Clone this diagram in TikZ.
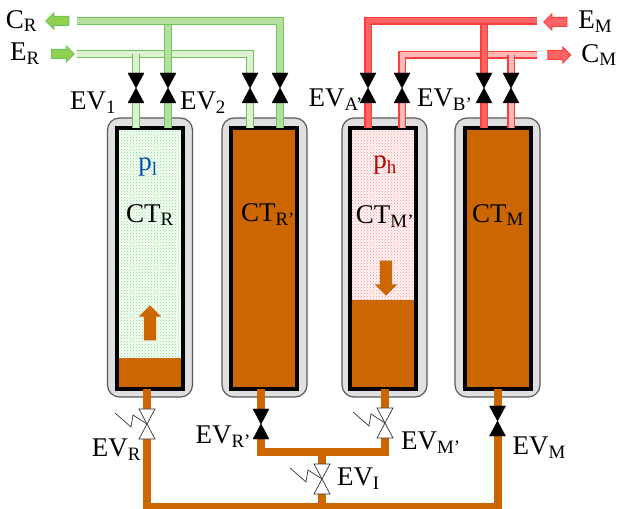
\documentclass[tikz,border=0pt]{standalone}
\usepackage{fontspec}
\setmainfont{Liberation Serif}
\usetikzlibrary{shapes.arrows,positioning,patterns}
\definecolor{brownfill}{HTML}{CC6600}
\definecolor{greenedge}{HTML}{6CC45C}
\definecolor{greendark}{HTML}{B4DF9C}
\definecolor{greenpale}{HTML}{DDF0CF}
\definecolor{greenflow}{HTML}{92D050}
\definecolor{greendot}{HTML}{92D492}
\definecolor{reddot}{HTML}{FF8C8C}
\definecolor{rededge}{HTML}{FF3C3C}
\definecolor{reddark}{HTML}{FF6464}
\definecolor{redpale}{HTML}{FFB8B8}
\begin{document}
\begin{tikzpicture}[x=1pt, y=1pt, font=\fontsize{27}{30}\selectfont,
  shell/.style={draw=black!65, fill=black!12, line width=1.2pt, rounded corners=12pt, minimum width=85pt, minimum height=279pt, inner sep=0pt, outer sep=0pt},
  tank/.style={minimum width=66pt, minimum height=261pt, inner sep=0pt, outer sep=0pt},
  tankwall/.style={draw=black, line width=4pt},
  valve/.style={minimum width=16pt, minimum height=30pt, inner sep=0pt, outer sep=0pt},
  label/.style={inner sep=0pt, outer sep=0pt},
  coldpipe/.style={draw=greenedge, line width=1.2pt, double=greendark, double distance=5.4pt},
  warmpipe/.style={draw=greenedge, line width=1.2pt, double=greenpale, double distance=5.4pt},
  hotpipe/.style={draw=rededge, line width=1.2pt, double=reddark, double distance=5pt},
  palepipe/.style={draw=rededge, line width=1.2pt, double=redpale, double distance=5pt},
  liquid/.style={draw=brownfill, line width=8pt},
  flow/.style={single arrow, minimum height=23pt, text height=8pt, text depth=0pt, text width=0pt, single arrow head extend=3.5pt, inner sep=0pt, line width=1pt},
  level/.style={single arrow, fill=brownfill, minimum height=35pt, text height=12pt, text depth=0pt, text width=0pt, single arrow head extend=5pt, inner sep=0pt}]
\clip (0,0) rectangle (617,508);
% tanks
\node[shell] (shellr) at (150,250.5) {};
\node[shell, right=29.5pt of shellr] (shellrp) {};
\node[shell, right=35pt of shellrp] (shellmp) {};
\node[shell, right=28pt of shellmp] (shellm) {};
\node[tank, fill=green!4] (ctr) at (150,249.5) {};
\node[tank, fill=brownfill, right=48pt of ctr] (ctrp) {};
\node[tank, fill=red!4, right=53pt of ctrp] (ctmp) {};
\node[tank, fill=brownfill, right=48.5pt of ctmp] (ctm) {};
\fill[pattern=crosshatch dots, pattern color=greendot] (ctr.south west) rectangle (ctr.north east);
\fill[pattern=crosshatch dots, pattern color=reddot] (ctmp.south west) rectangle (ctmp.north east);
\coordinate (levelr) at (150,150);
\coordinate (levelm) at (383,208);
\fill[brownfill] (ctr.south west) rectangle (ctr.east |- levelr);
\fill[brownfill] (ctmp.south west) rectangle (ctmp.east |- levelm);
\foreach \t in {ctr,ctrp,ctmp,ctm}
  \draw[tankwall] (\t.south west) rectangle (\t.north east);
% valves
\node[valve, above=25pt of ctr.north, xshift=-14pt] (ev1) {};
\node[valve, above=25pt of ctr.north, xshift=18pt] (ev2) {};
\node[valve, above=25pt of ctrp.north, xshift=-14pt] (ev3) {};
\node[valve, above=25pt of ctrp.north, xshift=16pt] (ev4) {};
\node[valve, above=25pt of ctmp.north, xshift=-15pt] (eva) {};
\node[valve, above=25pt of ctmp.north, xshift=19pt] (evb) {};
\node[valve, above=25pt of ctm.north, xshift=-13.5pt] (ev5) {};
\node[valve, above=25pt of ctm.north, xshift=13.5pt] (ev6) {};
\node[valve, below=20pt of ctr.south, xshift=-3pt] (evr) {};
\node[valve, below=20pt of ctrp.south, xshift=-3pt] (evrp) {};
\node[valve, below=19pt of ctmp.south, xshift=2pt] (evmp) {};
\node[valve, below=17pt of ctm.south] (evm) {};
\node[valve] (evi) at (322,29) {};
% free ends of the lines
\coordinate (crend) at (77,487);
\coordinate (crturn) at (168,487);
\coordinate (erend) at (77,454);
\coordinate (emend) at (537,487);
\coordinate (cmend) at (537,453);
\coordinate (joint) at (322,56);
\coordinate (mainline) at (322,1);
% green lines
\draw[warmpipe] (erend) -| (ev3.north);
\draw[warmpipe] (ev1 |- erend) -- (ev1.north);
\draw[warmpipe] (ev1.south) -- (ev1 |- ctr.north);
\draw[warmpipe] (ev3.south) -- (ev3 |- ctrp.north);
\draw[coldpipe] (crturn) -- (ev2.north);
\draw[coldpipe] (crend) -| (ev4.north);
\draw[coldpipe] (ev2.south) -- (ev2 |- ctr.north);
\draw[coldpipe] (ev4.south) -- (ev4 |- ctrp.north);
% red lines
\draw[palepipe] (cmend) -| (evb.north);
\draw[palepipe] (ev6 |- cmend) -- (ev6.north);
\draw[palepipe] (evb.south) -- (evb |- ctmp.north);
\draw[palepipe] (ev6.south) -- (ev6 |- ctm.north);
\draw[hotpipe] (ev5 |- emend) -- (ev5.north);
\draw[hotpipe] (emend) -| (eva.north);
\draw[hotpipe] (eva.south) -- (eva |- ctmp.north);
\draw[hotpipe] (ev5.south) -- (ev5 |- ctm.north);
% brown lines
\draw[liquid] (ctr.south -| evr) -- (evr.north);
\draw[liquid] (ctrp.south -| evrp) -- (evrp.north);
\draw[liquid] (ctmp.south -| evmp) -- (evmp.north);
\draw[liquid] (ctm.south -| evm) -- (evm.north);
\draw[liquid] (evrp.south) |- (joint) -| (evmp.south);
\draw[liquid] (joint) -- (evi.north);
\draw[liquid] (evi.south) -- (mainline);
\draw[liquid] (evr.south) |- (mainline) -| (evm.south);
\foreach \v in {ev1,ev2,ev3,ev4,eva,evb,ev5,ev6,evrp,evm}
  \draw[fill=black] (\v.north west) -- (\v.south east) -- (\v.south west) -- (\v.north east) -- cycle;
\foreach \v in {evr,evmp,evi} {
  \draw[draw=black!80, fill=white, line width=.7pt] (\v.north west) -- (\v.south east) -- (\v.south west) -- (\v.north east) -- cycle;
  \draw[draw=black!80, line width=.7pt] ([shift={(-32,11)}]\v.center) -- ([shift={(-16,-3)}]\v.center) -- ([shift={(-14,9)}]\v.center) -- (\v.center);
}
% level arrows
\node[level, rotate=90] (riser) at (150,182) {};
\node[level, rotate=-90] (faller) at (386,233) {};
% side arrows
\node[flow, draw=greenedge, fill=greenflow, shape border rotate=180] (arrowcr) at (59.5,487) {};
\node[flow, draw=greenedge, fill=greenflow] (arrower) at (60.5,454) {};
\node[flow, draw=rededge, fill=reddark, shape border rotate=180] (arrowem) at (557.5,486) {};
\node[flow, draw=rededge, fill=reddark] (arrowcm) at (557,453) {};
% labels
\node[label, left=8pt of arrowcr] (labcr) {C\textsubscript{R}};
\node[label, left=11pt of arrower] (labier) {E\textsubscript{R}};
\node[label, right=11pt of arrowem] (labem) {E\textsubscript{M}};
\node[label, right=10pt of arrowcm] (labcm) {C\textsubscript{M}};
\node[label, left=12pt of ev1, yshift=-15pt] (labev1) {EV\textsubscript{1}};
\node[label, right=4pt of ev2, yshift=-15pt] (labev2) {EV\textsubscript{2}};
\node[label, left=-3pt of eva, yshift=-12pt] (labeva) {EV\textsubscript{A’}};
\node[label, right=7pt of evb, yshift=-12pt] (labevb) {EV\textsubscript{B’}};
\node[label, below left=0pt and -2pt of evr.south west] (labevr) {EV\textsubscript{R}};
\node[label, left=2pt of evrp, yshift=-13pt] (labevrp) {EV\textsubscript{R’}};
\node[label, right=8pt of evmp, yshift=-20pt] (labevmp) {EV\textsubscript{M’}};
\node[label, right=7pt of evi] (labevi) {EV\textsubscript{I}};
\node[label, right=7pt of evm, yshift=-27pt] (labevm) {EV\textsubscript{M}};
\node[label, text=blue!55!cyan!70!black] (labpl) at (148,341) {p\textsubscript{l}};
\node[label, text=red!75!black] (labph) at (385,343) {p\textsubscript{h}};
\node[label] (labctr) at (150,293) {CT\textsubscript{R}};
\node[label] (labctrp) at (268,293) {CT\textsubscript{R’}};
\node[label] (labctmp) at (385,291) {CT\textsubscript{M’}};
\node[label] (labctm) at (498,293) {CT\textsubscript{M}};
\end{tikzpicture}
\end{document}
